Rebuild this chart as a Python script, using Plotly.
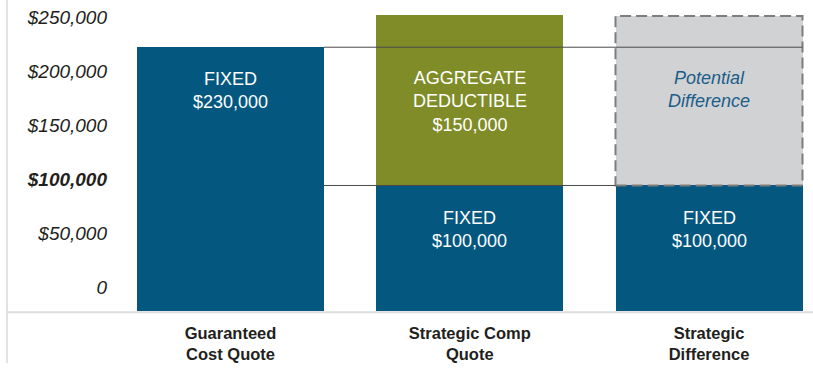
import plotly.graph_objects as go

# ---- data ----
categories = ["<b>Guaranteed</b><br><b>Cost Quote</b>",
              "<b>Strategic Comp</b><br><b>Quote</b>",
              "<b>Strategic</b><br><b>Difference</b>"]
fixed_top = [222000, 94000, 94000]          # top of blue "FIXED" bars
aggregate_top = [None, 252000, None]        # top of green segment
potential_top = [None, None, 251000]        # top of grey dashed segment
axis_floor = -22200                          # bars rise from the axis line

fixed_labels = ["FIXED<br>$230,000", "FIXED<br>$100,000", "FIXED<br>$100,000"]
fixed_label_y = [181500, 52800, 52800]
aggregate_label = "AGGREGATE<br>DEDUCTIBLE<br>$150,000"
aggregate_label_y = 171500
potential_label = "Potential<br>Difference"
potential_label_y = 183000

tick_vals = [0, 50000, 100000, 150000, 200000, 250000]
tick_text = ["0", "$50,000", "<b>$100,000</b>", "$150,000", "$200,000", "$250,000"]

# ---- styling ----
BLUE = "#04577f"
GREEN = "#7f8c27"
GREY = "#d1d2d4"
DASH = "#7d7d7d"
SANS = "Liberation Sans, Arial, sans-serif"
BAR_W = 0.7816

fig = go.Figure()

fig.add_trace(go.Bar(
    x=categories, y=[t - axis_floor for t in fixed_top], base=[axis_floor] * 3,
    width=BAR_W, marker=dict(color=BLUE, line=dict(width=0)), hoverinfo="skip"))

agg_base = [fixed_top[i] if v is not None else None for i, v in enumerate(aggregate_top)]
fig.add_trace(go.Bar(
    x=categories,
    y=[(v - b) if v is not None else None for v, b in zip(aggregate_top, agg_base)],
    base=agg_base, width=BAR_W, marker=dict(color=GREEN, line=dict(width=0)),
    hoverinfo="skip"))

pot_base = [fixed_top[i] if v is not None else None for i, v in enumerate(potential_top)]
fig.add_trace(go.Bar(
    x=categories,
    y=[(v - b) if v is not None else None for v, b in zip(potential_top, pot_base)],
    base=pot_base, width=BAR_W, marker=dict(color=GREY, line=dict(width=0)),
    hoverinfo="skip"))

shapes = []
# dashed border of potential difference box
i3 = 2
shapes.append(dict(type="rect", xref="x", yref="y",
                   x0=i3 - BAR_W / 2, x1=i3 + BAR_W / 2,
                   y0=pot_base[i3], y1=potential_top[i3],
                   line=dict(color=DASH, width=2, dash="11px,5px"),
                   fillcolor="rgba(0,0,0,0)", layer="above"))
# reference lines
shapes.append(dict(type="line", xref="x", yref="y",
                   x0=0 + BAR_W / 2, x1=2 + BAR_W / 2,
                   y0=fixed_top[0], y1=fixed_top[0],
                   line=dict(color="#4a4a4a", width=1), layer="above"))
shapes.append(dict(type="line", xref="x", yref="y",
                   x0=0 + BAR_W / 2, x1=2 - BAR_W / 2,
                   y0=fixed_top[1], y1=fixed_top[1],
                   line=dict(color="#4a4a4a", width=1), layer="above"))
# frame lines (left rule and baseline)
shapes.append(dict(type="line", xref="paper", yref="paper",
                   x0=-0.1498, x1=-0.1498, y0=1.0, y1=-0.167,
                   line=dict(color="#e2e2e2", width=2), layer="above"))
shapes.append(dict(type="line", xref="paper", yref="paper",
                   x0=-0.1498, x1=1.0, y0=-0.004, y1=-0.004,
                   line=dict(color="#dddddd", width=2), layer="above"))

annotations = []
for i, (txt, yy) in enumerate(zip(fixed_labels, fixed_label_y)):
    annotations.append(dict(x=i, y=yy, xref="x", yref="y", text=txt, showarrow=False,
                            font=dict(family=SANS, size=18, color="white")))
annotations.append(dict(x=1, y=aggregate_label_y, xref="x", yref="y", text=aggregate_label,
                        showarrow=False, font=dict(family=SANS, size=18, color="white")))
annotations.append(dict(x=2, y=potential_label_y, xref="x", yref="y", text=potential_label,
                        showarrow=False,
                        font=dict(family=SANS, size=18, color="#1b5d89", style="italic")))

fig.update_layout(
    width=813, height=371,
    margin=dict(l=112, r=0, t=0, b=60, pad=0, autoexpand=False),
    paper_bgcolor="white", plot_bgcolor="white",
    barmode="overlay", bargap=0, showlegend=False, hovermode=False,
    shapes=shapes, annotations=annotations,
    xaxis=dict(type="category", range=[-0.4953, 2.4347], showgrid=False, zeroline=False,
               showline=False, ticks="", ticklabelstandoff=10, automargin=False,
               tickfont=dict(family=SANS, size=16.5, color="#231f20")),
    yaxis=dict(range=[axis_floor, 265700], tickvals=tick_vals, ticktext=tick_text,
               showgrid=False, zeroline=False, showline=False, ticks="", automargin=False,
               ticklabelstandoff=4,
               tickfont=dict(family=SANS, size=19, color="#231f20", style="italic")),
)

fig.write_html("out.html", config={"displayModeBar": False},
               post_script="document.body.style.margin='0';document.body.style.overflow='hidden';")
